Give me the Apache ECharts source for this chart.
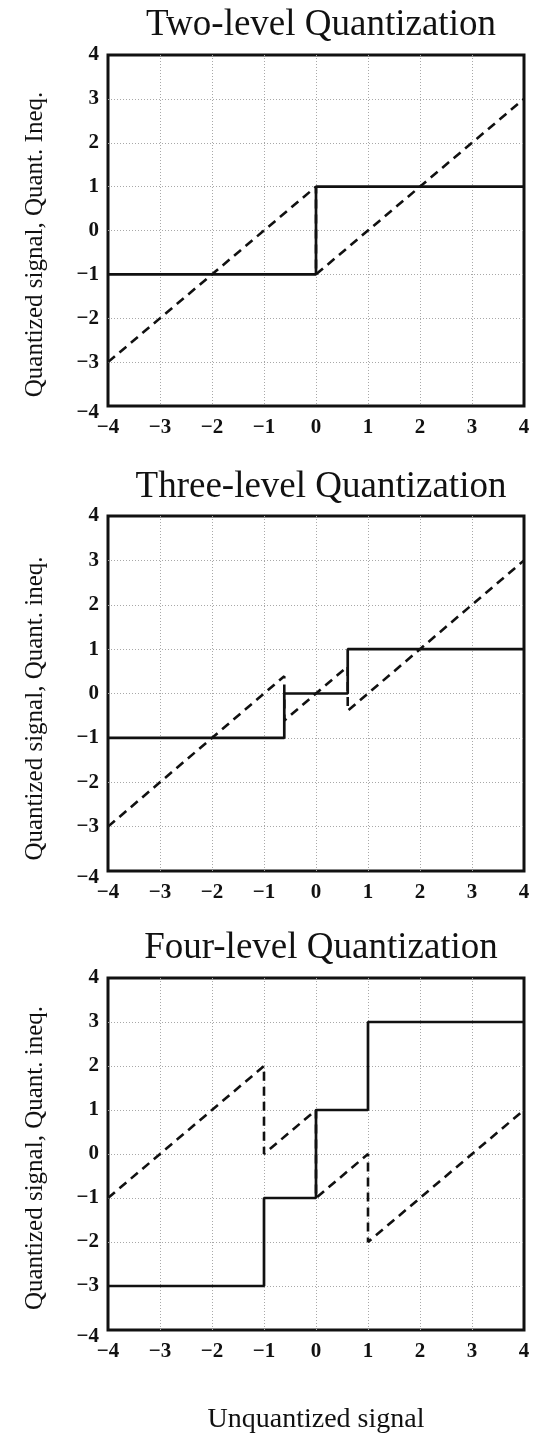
<!DOCTYPE html>
<html>
<head>
<meta charset="utf-8">
<title>Quantization</title>
<script src="https://cdn.jsdelivr.net/npm/echarts@6/dist/echarts.min.js"></script>
<style>
  html, body { margin: 0; padding: 0; background: #fff; }
  #chart { width: 539px; height: 1435px; }
</style>
</head>
<body>
<div id="chart"></div>
<script>
// Panel titles and axis text
const panelTitles = ['Two-level Quantization', 'Three-level Quantization', 'Four-level Quantization'];
const yAxisNames = ['Quantized signal, Quant. Ineq.', 'Quantized signal, Quant. ineq.', 'Quantized signal, Quant. ineq.'];
const xAxisName = 'Unquantized signal';
const axisTicks = [-4, -3, -2, -1, 0, 1, 2, 3, 4];

// Quantized output (solid) and quantization inequality (dashed), as [x, y] vertices
const twoLevelQuantized = [[-4, -1], [0, -1], [0, 1], [4, 1]];
const twoLevelInequality = [[-4, -3], [0, 1], [0, -1], [4, 3]];

const threeLevelQuantized = [[-4, -1], [-0.61, -1], [-0.61, 0], [0.61, 0], [0.61, 1], [4, 1]];
const threeLevelInequality = [[-4, -3], [-0.61, 0.39], [-0.61, -0.61], [0.61, 0.61], [0.61, -0.39], [4, 3]];

const fourLevelQuantized = [[-4, -3], [-1, -3], [-1, -1], [0, -1], [0, 1], [1, 1], [1, 3], [4, 3]];
const fourLevelInequality = [[-4, -1], [-1, 2], [-1, 0], [0, 1], [0, -1], [1, 0], [1, -2], [4, 1]];

const quantizedSets = [twoLevelQuantized, threeLevelQuantized, fourLevelQuantized];
const inequalitySets = [twoLevelInequality, threeLevelInequality, fourLevelInequality];

// Layout of the three stacked panels
const panelTops = [55, 516, 978];
const panelHeights = [351, 355, 356];
const titleTops = [2, 464, 925];
const yNameShift = [28, 30, 8];
const PLOT_LEFT = 108;
const PLOT_WIDTH = 416;

const SERIF = '"Liberation Serif", "DejaVu Serif", serif';
const fmt = v => (v < 0 ? '\u2212' + Math.abs(v) : String(v));
const AXIS_MIN = axisTicks[0];
const AXIS_MAX = axisTicks[axisTicks.length - 1];

const grids = [], xAxes = [], yAxes = [], titles = [], series = [];

panelTitles.forEach((t, i) => {
  titles.push({
    text: t,
    left: PLOT_LEFT + PLOT_WIDTH / 2,
    textAlign: 'center',
    top: titleTops[i],
    textStyle: { fontFamily: SERIF, fontSize: 37, fontWeight: 'normal', color: '#111' }
  });
  grids.push({
    left: PLOT_LEFT,
    top: panelTops[i],
    width: PLOT_WIDTH,
    height: panelHeights[i],
    show: true,
    borderColor: '#111',
    borderWidth: 3,
    backgroundColor: 'transparent'
  });
  const gridLine = {
    show: true, showMinLine: false, showMaxLine: false,
    lineStyle: { color: '#a8a8a8', width: 1, type: [1, 2] }
  };
  const labelBase = { fontFamily: SERIF, fontSize: 21, fontWeight: 'bold', color: '#111' };
  xAxes.push({
    type: 'value', gridIndex: i, min: AXIS_MIN, max: AXIS_MAX, interval: 1,
    axisLine: { show: false }, axisTick: { show: false },
    splitLine: gridLine,
    axisLabel: Object.assign({ margin: 11, showMinLabel: true, showMaxLabel: true, formatter: fmt }, labelBase),
    name: i === 2 ? xAxisName : '',
    nameLocation: 'middle',
    nameGap: 76,
    nameTextStyle: { fontFamily: SERIF, fontSize: 28, color: '#111' }
  });
  yAxes.push({
    type: 'value', gridIndex: i, min: AXIS_MIN, max: AXIS_MAX, interval: 1,
    axisLine: { show: false }, axisTick: { show: false },
    splitLine: gridLine,
    axisLabel: Object.assign({
      margin: 9, showMinLabel: true, showMaxLabel: true,
      // the lowest label sits a little below the corner
      formatter: v => (v === AXIS_MIN ? '{low|' + fmt(v) + '}' : fmt(v)),
      rich: { low: Object.assign({ padding: [14, 0, 0, 0] }, labelBase) }
    }, labelBase),
    name: yAxisNames[i],
    nameLocation: 'middle',
    nameRotate: 90,
    nameGap: 60,
    nameTextStyle: { fontFamily: SERIF, fontSize: 25, color: '#111', padding: [0, yNameShift[i], 0, 0] }
  });
  series.push({
    type: 'line', xAxisIndex: i, yAxisIndex: i,
    data: quantizedSets[i], showSymbol: false, symbol: 'none', silent: true,
    lineStyle: { color: '#111', width: 2.7, type: 'solid' },
    z: 3
  });
  series.push({
    type: 'line', xAxisIndex: i, yAxisIndex: i,
    data: inequalitySets[i], showSymbol: false, symbol: 'none', silent: true,
    lineStyle: { color: '#111', width: 2.6, type: [9, 6] },
    z: 2
  });
});

const chart = echarts.init(document.getElementById('chart'), null, { renderer: 'canvas' });
chart.setOption({
  animation: false,
  backgroundColor: '#fff',
  title: titles,
  grid: grids,
  xAxis: xAxes,
  yAxis: yAxes,
  series: series
});
</script>
</body>
</html>
